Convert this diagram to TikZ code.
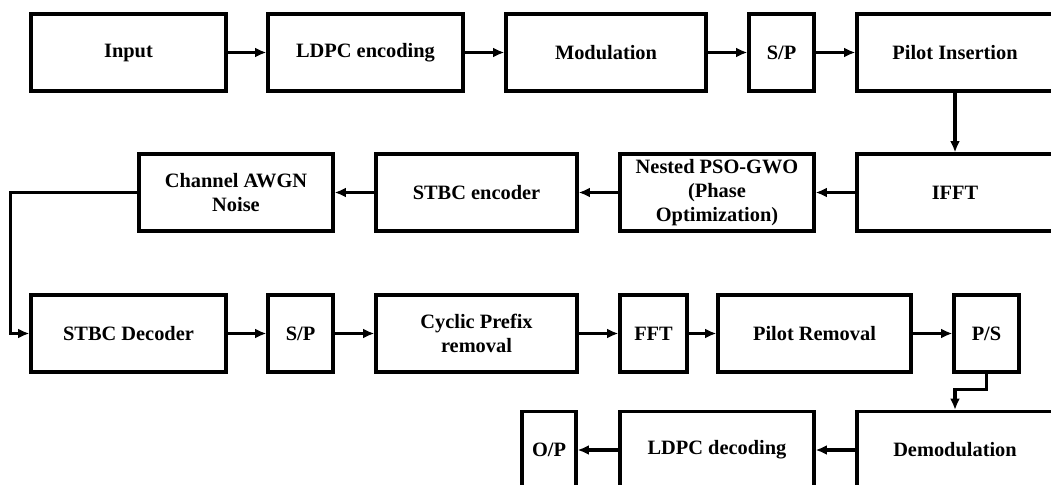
\documentclass[tikz,border=0pt]{standalone}
\usepackage{fontspec}
\setmainfont{Liberation Serif}
\usepackage{tikz}
\usetikzlibrary{arrows.meta}

\tikzset{
  blk/.style={draw, line width=2.2pt, minimum height=1.925cm, align=center,
    inner sep=2pt, font=\fontsize{14.5}{17}\selectfont\bfseries},
  flow/.style={line width=2.2pt, -{Latex[length=8pt,width=7pt]}},
}

\begin{document}
\begin{tikzpicture}[x=0.025cm, y=-0.025cm]
%%%%% Frame %%%%%
\useasboundingbox (0,0) rectangle (1051,485);
\clip (0,0) rectangle (1051,485);
%%%%% Row 1 %%%%%
\node[blk, minimum width=4.875cm] (inp) at (128.5,52.5) {Input};
\node[blk, minimum width=4.875cm] (ldpce) at (365.5,52.5) {LDPC encoding};
\node[blk, minimum width=5cm] (mod) at (606,52.5) {Modulation};
\node[blk, minimum width=1.625cm] (sp1) at (781.5,52.5) {S/P};
\node[blk, minimum width=4.9cm] (pins) at (955,52.5) {Pilot Insertion};
%%%%% Row 2 %%%%%
\node[blk, minimum width=4.9cm] (ifft) at (955,192.5) {IFFT};
\node[blk, minimum width=4.85cm] (pso) at (717,192.5) {Nested PSO-GWO\\(Phase\\Optimization)};
\node[blk, minimum width=5.025cm] (stbce) at (476.5,192.5) {STBC encoder};
\node[blk, minimum width=4.85cm] (chan) at (236,192.5) {Channel AWGN\\Noise};
%%%%% Row 3 %%%%%
\node[blk, minimum width=4.875cm] (stbcd) at (128.5,333.5) {STBC Decoder};
\node[blk, minimum width=1.625cm] (sp2) at (300.5,333.5) {S/P};
\node[blk, minimum width=5.025cm] (cpr) at (476.5,333.5) {Cyclic Prefix\\removal};
\node[blk, minimum width=1.675cm] (fft) at (653.5,333.5) {FFT};
\node[blk, minimum width=4.825cm] (prem) at (814.5,333.5) {Pilot Removal};
\node[blk, minimum width=1.625cm] (ps) at (986.5,333.5) {P/S};
%%%%% Row 4 %%%%%
\node[blk, minimum width=4.9cm] (demod) at (955,450) {Demodulation};
\node[blk, minimum width=4.85cm] (ldpcd) at (717,450) {LDPC decoding};
\node[blk, minimum width=1.35cm] (op) at (549,450) {O/P};
%%%%% Connectors %%%%%
\draw[flow] (inp) -- (ldpce);
\draw[flow] (ldpce) -- (mod);
\draw[flow] (mod) -- (sp1);
\draw[flow] (sp1) -- (pins);
\draw[flow] (pins) -- (ifft);
\draw[flow] (ifft) -- (pso);
\draw[flow] (pso) -- (stbce);
\draw[flow] (stbce) -- (chan);
\draw[flow] (chan.west) -- ++(-127,0) |- (stbcd.west);
\draw[flow] (stbcd) -- (sp2);
\draw[flow] (sp2) -- (cpr);
\draw[flow] (cpr) -- (fft);
\draw[flow] (fft) -- (prem);
\draw[flow] (prem) -- (ps);
\draw[flow] (ps.south) -- ++(0,16) -| (demod.north);
\draw[flow] (demod) -- (ldpcd);
\draw[flow] (ldpcd) -- (op);
\end{tikzpicture}
\end{document}
